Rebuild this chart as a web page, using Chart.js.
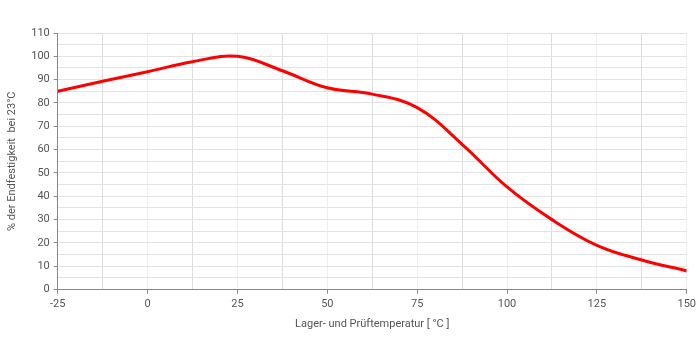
<!DOCTYPE html>
<html>
<head>
<meta charset="utf-8">
<script src="https://cdn.jsdelivr.net/npm/chart.js@4/dist/chart.umd.min.js"></script>
<style>
  html, body { margin: 0; padding: 0; background: #fff; }
  #wrap { width: 700px; height: 350px; }
</style>
</head>
<body>
<div id="wrap"><canvas id="grafica"></canvas></div>
<script>
// temperatura [°C] y % de resistencia final
const temperaturas = [-25, -12.5, 0, 12.5, 25, 37.5, 50, 62.5, 75, 87.5, 100, 112.5, 125, 137.5, 150];
const porcentajes  = [85, 89.3, 93.4, 97.7, 100, 93.8, 86.5, 83.8, 78, 62.3, 44, 30, 19, 12.7, 8];

const TITULO_Y = "% der Endfestigkeit  bei 23°C";
const TITULO_X = "Lager- und Prüftemperatur [ °C ]";

const GRIS_TEXTO = "#555";

Chart.defaults.font.family = "Roboto, 'Noto Sans', sans-serif";
Chart.defaults.font.size = 11;
Chart.defaults.color = GRIS_TEXTO;

new Chart(document.getElementById("grafica"), {
  type: "line",
  data: {
    datasets: [{
      data: temperaturas.map((t, i) => ({ x: t, y: porcentajes[i] })),
      borderColor: "#ff0000",
      borderWidth: 3,
      pointRadius: 0,
      tension: 0.4,
      fill: false
    }]
  },
  options: {
    responsive: true,
    maintainAspectRatio: false,
    animation: false,
    layout: { padding: { top: 33, right: 12, bottom: 15, left: 2 } },
    plugins: { legend: { display: false }, tooltip: { enabled: false } },
    scales: {
      x: {
        type: "linear",
        min: -25,
        max: 150,
        ticks: {
          stepSize: 12.5,
          autoSkip: false,
          maxRotation: 0,
          padding: 4,
          callback: v => (v % 25 === 0 ? v : "")
        },
        grid: {
          color: ctx => (ctx.tick && ctx.tick.value % 25 === 0 ? "#eeeeee" : "#dddddd"),
          tickColor: ctx => (ctx.tick && ctx.tick.value % 25 === 0 ? "#888" : "rgba(0,0,0,0)"),
          tickLength: 4
        },
        border: { color: "#888", width: 1 },
        title: { display: true, text: TITULO_X, padding: { top: 3 } }
      },
      y: {
        min: 0,
        max: 110,
        ticks: {
          stepSize: 5,
          autoSkip: false,
          padding: 4,
          callback: v => (v % 10 === 0 ? v : "")
        },
        grid: {
          color: "#e2e2e2",
          tickColor: ctx => (ctx.tick && ctx.tick.value % 10 === 0 ? "#888" : "rgba(0,0,0,0)"),
          tickLength: 4
        },
        border: { color: "#888", width: 1 },
        title: { display: true, text: TITULO_Y, padding: { bottom: 8 } }
      }
    }
  }
});
</script>
</body>
</html>
